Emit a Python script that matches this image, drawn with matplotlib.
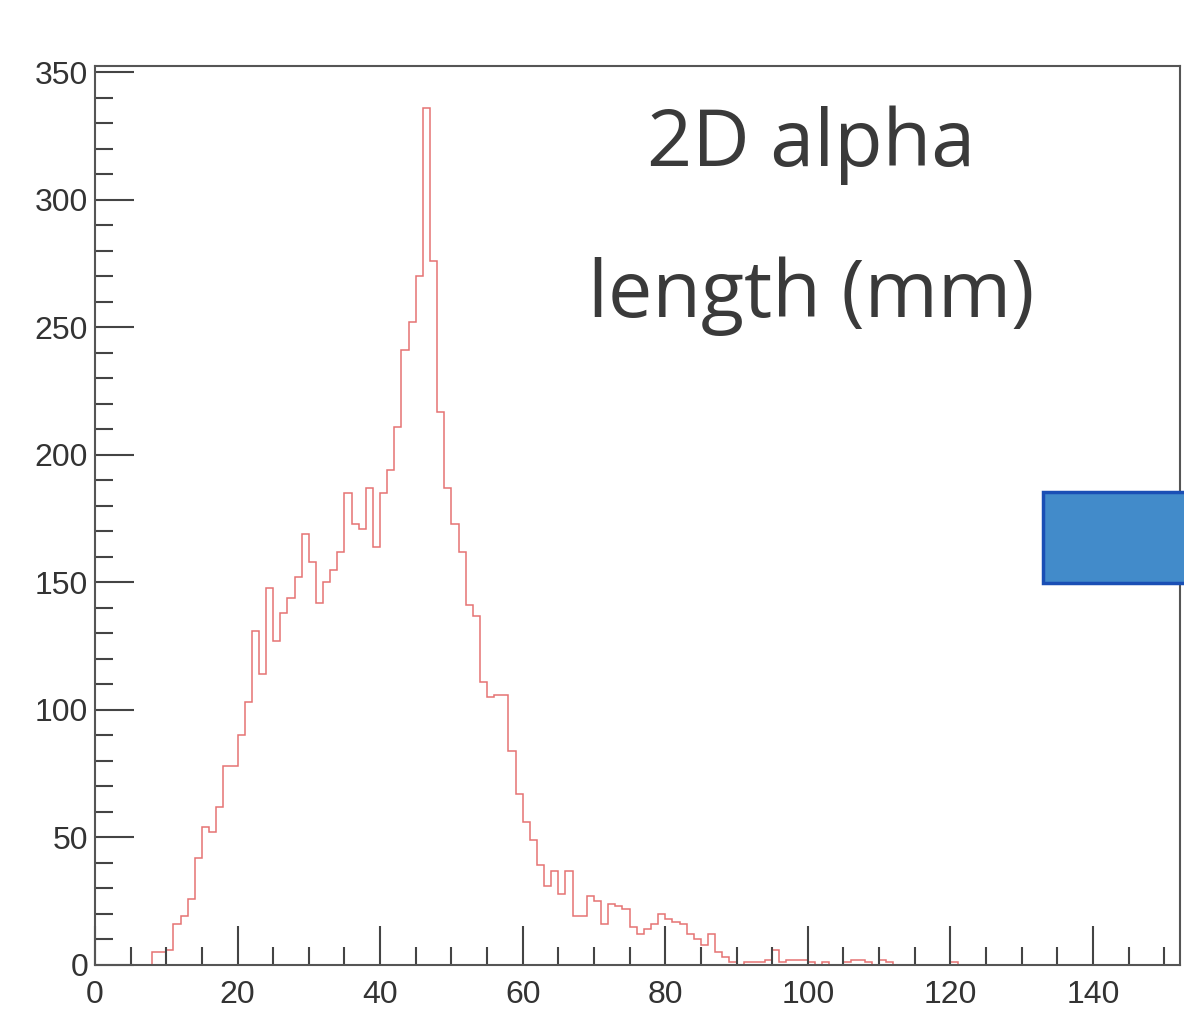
import numpy as np
import matplotlib
matplotlib.use("Agg")
import matplotlib.pyplot as plt
from matplotlib.patches import Rectangle
from matplotlib.ticker import MultipleLocator

# 1 mm bins, 0..150; counts
bin_edges = np.arange(0, 151, 1)
counts = [
    0, 0, 0, 0, 0, 0, 0, 0, 5, 5,            # 0-9
    6, 16, 19, 26, 42, 54, 52, 62, 78, 78,   # 10-19
    90, 103, 131, 114, 148, 127, 138, 144, 152, 169,   # 20-29
    158, 142, 150, 155, 162, 185, 173, 171, 187, 164,  # 30-39
    185, 194, 211, 241, 252, 270, 336, 276, 217, 187,  # 40-49
    173, 162, 141, 137, 111, 105, 106, 106, 84, 67,    # 50-59
    56, 49, 39, 31, 37, 28, 37, 19, 19, 27,            # 60-69
    25, 16, 24, 23, 22, 15, 12, 14, 16, 20,            # 70-79
    18, 17, 16, 12, 10, 8, 12, 5, 3, 1,                # 80-89
    0, 1, 1, 1, 2, 6, 1, 2, 2, 2,                      # 90-99
    1, 0, 1, 0, 0, 1, 2, 2, 1, 0,                      # 100-109
    2, 1, 0, 0, 0, 0, 0, 0, 0, 0,                      # 110-119
    1, 0, 0, 0, 0, 0, 0, 0, 0, 0,                      # 120-129
    0, 0, 0, 0, 0, 0, 0, 0, 0, 0,                      # 130-139
    0, 0, 0, 0, 0, 0, 0, 0, 0, 0,                      # 140-149
]
title_lines = ["2D alpha", "length (mm)"]

fig = plt.figure(figsize=(11.84, 10.10), dpi=100)
ax = fig.add_axes([0.0802, 0.0446, 0.9164, 0.8901])

ax.stairs(counts, bin_edges, color="#e57373", lw=1.1)

ax.set_xlim(0, 152.2)
ax.set_ylim(0, 352.5)
ax.xaxis.set_major_locator(MultipleLocator(20))
ax.xaxis.set_minor_locator(MultipleLocator(5))
ax.yaxis.set_major_locator(MultipleLocator(50))
ax.yaxis.set_minor_locator(MultipleLocator(10))
ax.tick_params(which="both", direction="in", color="#444444", width=1.5,
               top=False, right=False)
ax.tick_params(which="major", length=28, labelsize=23, labelcolor="#333333")
ax.tick_params(axis="x", which="major", pad=11)
ax.tick_params(axis="y", which="major", pad=5)
ax.tick_params(which="minor", length=13)
for lab in ax.get_xticklabels() + ax.get_yticklabels():
    lab.set_family("Liberation Sans")
for s in ax.spines.values():
    s.set_color("#555555")
    s.set_linewidth(1.5)

ax.text(0.66, 0.912, title_lines[0], transform=ax.transAxes, ha="center",
        va="center", fontsize=57, color="#3a3a3a", family="Open Sans")
ax.text(0.66, 0.744, title_lines[1], transform=ax.transAxes, ha="center",
        va="center", fontsize=57, color="#3a3a3a", family="Open Sans")

# blue box poking in from the right edge
fig.patches.append(Rectangle((1043 / 1184, (1010 - 583) / 1010), 0.2, 91 / 1010,
                             transform=fig.transFigure, facecolor="#428bca",
                             edgecolor="#1a4fb5", lw=2.5, zorder=5))

fig.savefig("out.png", dpi=100)
